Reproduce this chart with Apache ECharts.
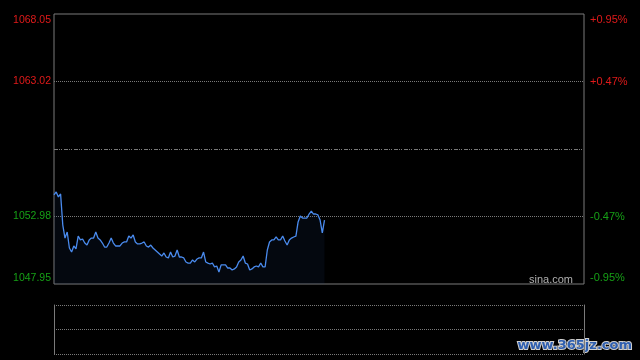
<!DOCTYPE html>
<html><head><meta charset="utf-8">
<script src="https://cdn.jsdelivr.net/npm/echarts@6/dist/echarts.min.js"></script>
<style>html,body{margin:0;padding:0;background:#000}#c{width:640px;height:360px}</style>
</head><body><div id="c"></div>
<script>
const prevClose = 1058.00;
const priceMin = 1047.95;
const priceMax = 1068.05;
const leftTicks = ['1047.95', '1052.98', '', '1063.02', '1068.05'];
const rightTicks = ['-0.95%', '-0.47%', '', '+0.47%', '+0.95%'];
const prices = [
  1054.58, 1054.80, 1054.43, 1054.65, 1052.34, 1051.37, 1051.82, 1050.63, 1050.33, 1050.78,
  1050.56, 1051.52, 1051.23, 1051.30, 1051.00, 1050.85, 1051.23, 1051.37, 1051.37, 1051.82,
  1051.37, 1051.23, 1051.00, 1050.70, 1050.70, 1051.00, 1051.37, 1051.00, 1050.78, 1050.78,
  1050.78, 1051.00, 1051.08, 1051.08, 1051.52, 1051.37, 1051.60, 1051.08, 1050.93, 1050.93,
  1051.00, 1051.08, 1050.78, 1050.70, 1050.85, 1050.63, 1050.48, 1050.33, 1050.18, 1050.03,
  1050.26, 1049.96, 1049.89, 1050.33, 1049.96, 1050.03, 1050.48, 1049.96, 1049.96, 1049.89,
  1049.59, 1049.51, 1049.51, 1049.74, 1049.59, 1049.81, 1049.89, 1049.89, 1050.33, 1049.59,
  1049.51, 1049.44, 1049.51, 1049.22, 1049.29, 1048.84, 1049.37, 1049.37, 1049.37, 1049.14,
  1049.14, 1048.99, 1049.07, 1049.22, 1049.59, 1049.74, 1050.03, 1049.51, 1049.44, 1048.99,
  1049.07, 1049.22, 1049.29, 1049.22, 1049.51, 1049.22, 1049.22, 1050.48, 1051.08, 1051.23,
  1051.23, 1051.45, 1051.23, 1051.23, 1051.52, 1051.15, 1050.85, 1051.23, 1051.37, 1051.45,
  1051.52, 1052.57, 1053.01, 1052.86, 1052.86, 1052.86, 1053.16, 1053.38, 1053.16, 1053.16,
  1053.09, 1052.71, 1051.75, 1052.71
];
const times = [];
function pushSession(h0, m0, n) {
  for (let i = 0; i < n; i++) {
    const t = h0 * 60 + m0 + i;
    times.push(String(Math.floor(t / 60)).padStart(2, '0') + ':' + String(t % 60).padStart(2, '0'));
  }
}
pushSession(9, 30, 121);
pushSession(13, 1, 120);
times.push('15:01');

const RED = '#e01a1a', GREEN = '#16a016', GRID = '#7a7a7a';
const chart = echarts.init(document.getElementById('c'), null, { renderer: 'canvas' });
const FONT = 'Liberation Sans, Arial';
const richLabels = (size) => ({
  t: { color: RED, fontSize: size, fontFamily: FONT, padding: [12, 0, 0, 0] },
  r: { color: RED, fontSize: size, fontFamily: FONT },
  g: { color: GREEN, fontSize: size, fontFamily: FONT },
  b: { color: GREEN, fontSize: size, fontFamily: FONT, padding: [0, 0, 12, 0] }
});
const fmt = (v, i) => {
  if (!v) return '';
  const key = i === 4 ? 't' : i === 3 ? 'r' : i === 1 ? 'g' : 'b';
  return '{' + key + '|' + v + '}';
};
chart.setOption({
  backgroundColor: '#000',
  animation: false,
  grid: [
    { left: 54, right: 56, top: 14, height: 270, show: true, borderColor: GRID, borderWidth: 1, backgroundColor: 'transparent' },
    { left: 54, right: 56, top: 305, height: 49, show: false }
  ],
  xAxis: [
    { type: 'category', gridIndex: 0, data: times, boundaryGap: false, show: false },
    { type: 'category', gridIndex: 1, data: times, boundaryGap: false, show: false }
  ],
  yAxis: [
    { type: 'value', gridIndex: 0, min: priceMin, max: priceMax, show: false },
    {
      type: 'category', gridIndex: 0, data: leftTicks, boundaryGap: false, position: 'left',
      axisLine: { show: false }, axisTick: { show: false },
      axisLabel: { margin: 3, formatter: fmt, rich: richLabels(10.5), interval: 0 },
      splitLine: { show: true, interval: (i) => i === 1 || i === 3, lineStyle: { color: GRID, type: 'dotted', width: 1 } }
    },
    {
      type: 'category', gridIndex: 0, data: rightTicks, boundaryGap: false, position: 'right',
      axisLine: { show: false }, axisTick: { show: false },
      axisLabel: { margin: 6, formatter: fmt, rich: richLabels(11), interval: 0 },
      splitLine: { show: false }
    },
    {
      type: 'value', gridIndex: 1, min: 0, max: 2, interval: 1, position: 'left',
      axisLine: { show: true, lineStyle: { color: GRID } }, axisTick: { show: false }, axisLabel: { show: false },
      splitLine: { show: true, lineStyle: { color: GRID, type: 'dotted' } }
    },
    {
      type: 'value', gridIndex: 1, min: 0, max: 2, interval: 1, position: 'right',
      axisLine: { show: true, lineStyle: { color: GRID } }, axisTick: { show: false }, axisLabel: { show: false },
      splitLine: { show: false }
    }
  ],
  series: [{
    type: 'line', xAxisIndex: 0, yAxisIndex: 0, data: prices, showSymbol: false, symbol: 'none',
    lineStyle: { color: '#4a8bee', width: 1.3 },
    areaStyle: { color: 'rgba(35,60,120,0.18)', origin: 'start' },
    markLine: {
      silent: true, symbol: 'none', label: { show: false },
      lineStyle: { color: GRID, type: [4, 1, 1, 1, 1, 2], width: 1 },
      data: [{ yAxis: prevClose }]
    }
  }],
  graphic: [
    { type: 'text', right: 67, top: 274, style: { text: 'sina.com', fill: '#b0b0b0', font: '11px "Liberation Sans", Arial' } },
    { type: 'text', right: 7, top: 338, style: { text: 'www.365jz.com', fill: '#2f5fb0', stroke: '#d0d0d0', lineWidth: 2, font: 'bold 13px "DejaVu Sans"' } }
  ]
});
</script></body></html>
